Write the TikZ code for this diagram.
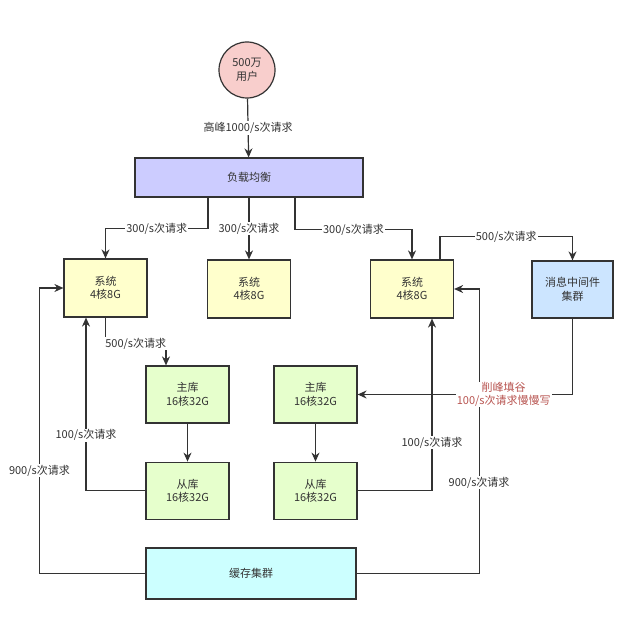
\documentclass[tikz,border=0pt]{standalone}
\usepackage{fontspec}
\setmainfont{Noto Sans CJK SC}
\usetikzlibrary{arrows.meta,positioning}
\definecolor{userfill}{RGB}{248,206,204}
\definecolor{lbfill}{RGB}{204,204,255}
\definecolor{sysfill}{RGB}{255,255,204}
\definecolor{dbfill}{RGB}{230,255,204}
\definecolor{mqfill}{RGB}{204,229,255}
\definecolor{cachefill}{RGB}{204,255,255}
\definecolor{linegray}{RGB}{51,51,51}
\definecolor{peakred}{RGB}{184,84,80}

\begin{document}
\begin{tikzpicture}[
    x=1pt, y=-1pt,
    font=\fontsize{11}{13.5}\selectfont, text=linegray,
    box/.style={rectangle, draw=linegray, line width=1.2pt, align=center, inner sep=0pt},
    sysbox/.style={box, fill=sysfill, minimum width=83pt, minimum height=58pt},
    dbbox/.style={box, fill=dbfill, minimum width=83pt, minimum height=57pt},
    arrow/.style={-{Stealth[length=9pt,width=8pt]}, draw=linegray, line width=1.2pt},
    rate/.style={fill=white, inner sep=1pt},
]
    \fill[white] (0,0) rectangle (640,626);
    \useasboundingbox (0,0) rectangle (640,626);

    \node[circle, draw=linegray, line width=1.2pt, fill=userfill, minimum size=56pt, align=center, inner sep=0pt] (user) at (247,70) {500万\\用户};

    \node[box, fill=lbfill, minimum width=228pt, minimum height=39pt] (lb) at (249,177.5) {负载均衡};

    \node[sysbox] (sys1) at (105.5,288) {系统\\4核8G};
    \node[sysbox] (sys2) at (249,289) {系统\\4核8G};
    \node[sysbox] (sys3) at (412,289) {系统\\4核8G};
    \node[box, fill=mqfill, minimum width=81pt, minimum height=57pt] (mq) at (572.5,289.5) {消息中间件\\集群};

    \node[dbbox] (master1) at (187.5,394.5) {主库\\16核32G};
    \node[dbbox, below=38pt of master1] (slave1) {从库\\16核32G};
    \node[dbbox] (master2) at (315.5,394.5) {主库\\16核32G};
    \node[dbbox, below=38pt of master2] (slave2) {从库\\16核32G};

    \node[box, fill=cachefill, minimum width=210pt, minimum height=51pt] (cache) at (251,573.5) {缓存集群};

    \draw[arrow] (user) -- node[rate] {高峰1000/s次请求} (lb);
    \draw[arrow] ([xshift=-41pt]lb.south) -- ++(0,31) -| node[rate, pos=0.25] {300/s次请求} (sys1.north);
    \draw[arrow] (lb.south) -- node[rate] {300/s次请求} (sys2);
    \draw[arrow] ([xshift=46pt]lb.south) -- ++(0,32) -| node[rate, pos=0.25] {300/s次请求} (sys3.north);
    \draw[arrow] ([xshift=28pt]sys3.north) -- ++(0,-23) -| node[rate, pos=0.25] {500/s次请求} (mq.north);

    \draw[arrow] (sys1.south) -- ++(0,26) -| node[rate, pos=0.25] {500/s次请求} ([xshift=-21.5pt]master1.north);
    \draw[arrow] (master1) -- (slave1);
    \draw[arrow] (master2) -- (slave2);
    \draw[arrow] (slave1.west) -| node[rate, pos=0.66] {100/s次请求} ([xshift=-19.5pt]sys1.south);
    \draw[arrow] (slave2.east) -| node[rate, pos=0.64] {100/s次请求} ([xshift=20pt]sys3.south);

    \draw[arrow] (cache.west) -| node[rate, pos=0.68] {900/s次请求} ([xshift=-24pt]sys1.west) -- (sys1.west);
    \draw[arrow] (cache.east) -| node[rate, pos=0.66] {900/s次请求} ([xshift=25pt]sys3.east) -- (sys3.east);

    \draw[arrow] (mq.south) |- node[rate, pos=0.66, text=peakred, align=center, font=\fontsize{11}{12.5}\selectfont] {削峰填谷\\100/s次请求慢慢写} (master2.east);
\end{tikzpicture}
\end{document}
